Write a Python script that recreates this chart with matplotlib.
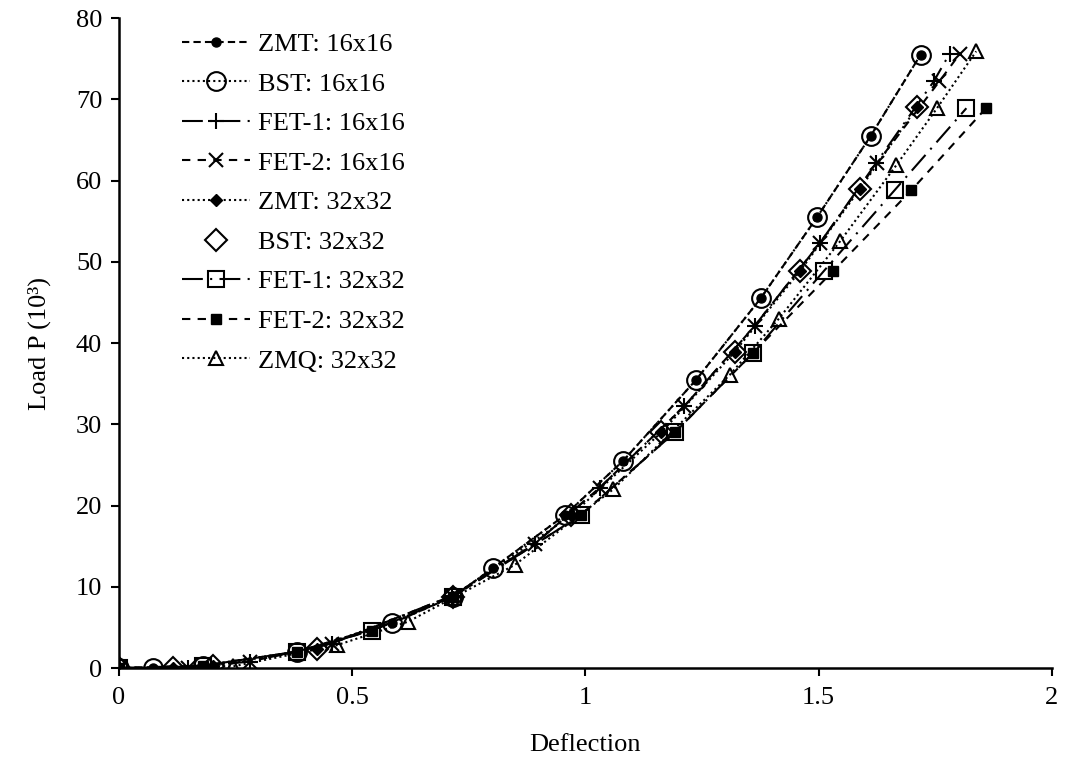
import matplotlib
matplotlib.use("Agg")
import matplotlib.pyplot as plt

plt.rcParams['font.family'] = ['Liberation Serif', 'DejaVu Serif']

# Load levels (x10^3) and deflections for each model / mesh
zmt16_x = [0, 0.074, 0.181, 0.381, 0.585, 0.717, 0.802, 0.956, 1.081, 1.238, 1.376, 1.497, 1.612, 1.719]
zmt16_y = [0, 0.0, 0.3, 2.0, 5.5, 8.8, 12.3, 18.8, 25.5, 35.5, 45.5, 55.5, 65.5, 75.5]

bst16_x = zmt16_x
bst16_y = zmt16_y

fet1_16_x = [0, 0.149, 0.281, 0.456, 0.715, 0.892, 1.031, 1.212, 1.363, 1.503, 1.624, 1.747, 1.781]
fet1_16_y = [0, 0.05, 0.8, 3.0, 8.9, 15.3, 22.2, 32.2, 42.1, 52.3, 62.2, 72.2, 75.6]

fet2_16_x = [0, 0.149, 0.281, 0.456, 0.715, 0.892, 1.031, 1.212, 1.363, 1.503, 1.626, 1.759, 1.803]
fet2_16_y = [0, 0.05, 0.8, 3.0, 8.9, 15.3, 22.2, 32.2, 42.1, 52.3, 62.2, 72.2, 75.6]

zmt32_x = [0, 0.116, 0.202, 0.424, 0.717, 0.970, 1.163, 1.320, 1.461, 1.588, 1.711]
zmt32_y = [0, 0.05, 0.3, 2.4, 8.8, 18.8, 29.0, 38.9, 48.9, 58.9, 69.0]

bst32_x = zmt32_x
bst32_y = zmt32_y

fet1_32_x = [0, 0.181, 0.381, 0.542, 0.717, 0.990, 1.192, 1.360, 1.512, 1.663, 1.817]
fet1_32_y = [0, 0.3, 2.0, 4.6, 8.8, 18.8, 29.0, 38.8, 48.9, 58.8, 68.9]

fet2_32_x = [0, 0.181, 0.381, 0.542, 0.717, 0.990, 1.192, 1.360, 1.532, 1.699, 1.859]
fet2_32_y = [0, 0.3, 2.0, 4.6, 8.8, 18.8, 29.0, 38.8, 48.9, 58.8, 68.9]

zmq32_x = [0, 0.245, 0.467, 0.620, 0.849, 1.060, 1.310, 1.415, 1.546, 1.667, 1.754, 1.838]
zmq32_y = [0, 0.2, 2.8, 5.7, 12.7, 22.0, 36.1, 43.0, 52.5, 61.9, 68.9, 75.9]

x_ticks = [0, 0.5, 1, 1.5, 2]
x_ticklabels = ['0', '0.5', '1', '1.5', '2']
y_ticks = [0, 10, 20, 30, 40, 50, 60, 70, 80]

fig = plt.figure(figsize=(10.71, 7.58), dpi=100)
ax = fig.add_axes([0.111, 0.1187, 0.871, 0.8575])

k = dict(color='black', lw=1.5)
long_dash_dot = (0, (10, 3.5, 1, 3.5))

ax.plot(zmt16_x, zmt16_y, ls=(0, (3.5, 2)), marker='o', ms=6.5, mfc='black', mec='black',
        label='ZMT: 16x16', zorder=5, **k)
ax.plot(bst16_x, bst16_y, ls=(0, (1, 1.5)), marker='o', ms=13.5, mfc='none', mec='black', mew=1.5,
        label='BST: 16x16', zorder=4, **k)
ax.plot(fet1_16_x, fet1_16_y, ls=long_dash_dot, marker='+', ms=12, mew=1.5,
        label='FET-1: 16x16', zorder=4, **k)
ax.plot(fet2_16_x, fet2_16_y, ls=(0, (4, 3.5)), marker='x', ms=10, mew=1.5,
        label='FET-2: 16x16', zorder=4, **k)
ax.plot(zmt32_x, zmt32_y, ls=(0, (1, 1.5)), marker='D', ms=6, mfc='black', mec='black',
        label='ZMT: 32x32', zorder=5, **k)
ax.plot(bst32_x, bst32_y, ls='none', marker='D', ms=11, mfc='none', mec='black', mew=1.5,
        label='BST: 32x32', zorder=4, color='black')
ax.plot(fet1_32_x, fet1_32_y, ls=long_dash_dot, marker='s', ms=12, mfc='none', mec='black',
        mew=1.5, label='FET-1: 32x32', zorder=4, **k)
ax.plot(fet2_32_x, fet2_32_y, ls=(0, (4, 3.5)), marker='s', ms=6.5, mfc='black', mec='black',
        label='FET-2: 32x32', zorder=5, **k)
ax.plot(zmq32_x, zmq32_y, ls=(0, (1, 1.5)), marker='^', ms=10, mfc='none', mec='black', mew=1.5,
        label='ZMQ: 32x32', zorder=4, **k)

ax.set_xlim(0, 2)
ax.set_ylim(0, 80)
ax.set_xticks(x_ticks)
ax.set_xticklabels(x_ticklabels)
ax.set_yticks(y_ticks)
ax.tick_params(direction='out', length=6, width=1.5, labelsize=19, pad=6)
ax.tick_params(axis='x', pad=8)
for s in ['top', 'right']:
    ax.spines[s].set_visible(False)
for s in ['left', 'bottom']:
    ax.spines[s].set_linewidth(1.8)

ax.set_xlabel('Deflection', fontsize=19, labelpad=18)
ax.set_ylabel('Load P (10³)', fontsize=19, labelpad=18)

leg = ax.legend(loc='upper left', bbox_to_anchor=(0.056, 0.994), frameon=False, fontsize=19,
                handlelength=2.6, handletextpad=0.3, labelspacing=0.61, borderaxespad=0)

fig.savefig('out.png', dpi=100)
